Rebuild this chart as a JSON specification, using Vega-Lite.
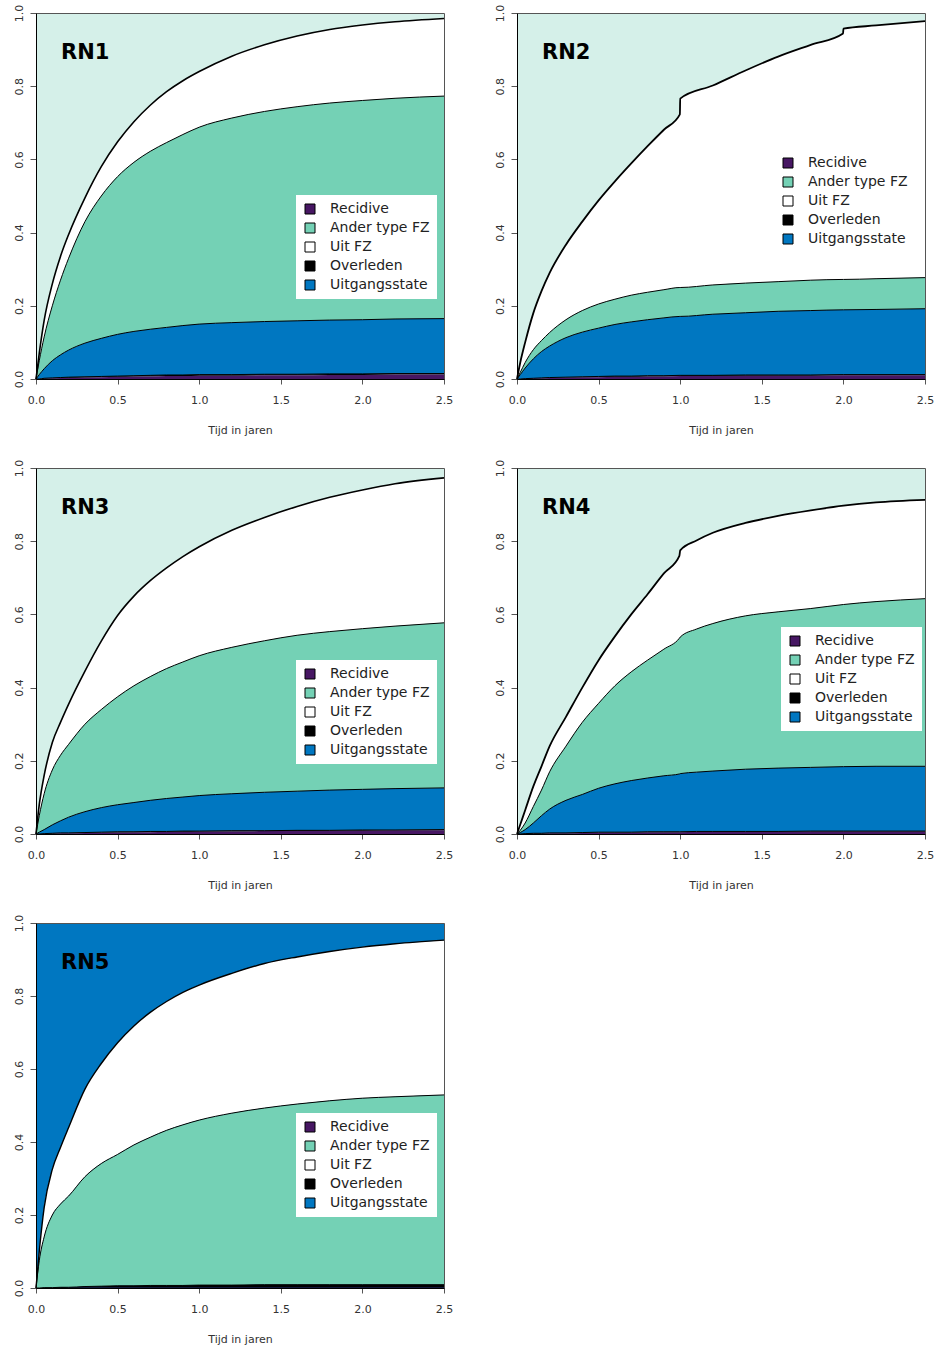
{
  "$schema": "https://vega.github.io/schema/vega-lite/v6.json",
  "padding": {"left": 12, "top": 3, "right": 5, "bottom": 5},
  "background": "white",
  "datasets": {
    "rn1": [
      {"t": 0, "rec": 0, "ovl": 0, "uit": 0, "and": 0, "fz": 0},
      {"t": 0.02, "rec": 0, "ovl": 0, "uit": 0.012, "and": 0.05, "fz": 0.07},
      {"t": 0.05, "rec": 0.001, "ovl": 0.002, "uit": 0.028, "and": 0.115, "fz": 0.16},
      {"t": 0.1, "rec": 0.002, "ovl": 0.003, "uit": 0.05, "and": 0.2, "fz": 0.26},
      {"t": 0.15, "rec": 0.003, "ovl": 0.004, "uit": 0.066, "and": 0.27, "fz": 0.335},
      {"t": 0.2, "rec": 0.003, "ovl": 0.005, "uit": 0.079, "and": 0.33, "fz": 0.395},
      {"t": 0.3, "rec": 0.004, "ovl": 0.006, "uit": 0.098, "and": 0.43, "fz": 0.495},
      {"t": 0.4, "rec": 0.005, "ovl": 0.007, "uit": 0.111, "and": 0.5, "fz": 0.58},
      {"t": 0.5, "rec": 0.006, "ovl": 0.008, "uit": 0.122, "and": 0.553, "fz": 0.648},
      {"t": 0.6, "rec": 0.007, "ovl": 0.009, "uit": 0.13, "and": 0.592, "fz": 0.703},
      {"t": 0.7, "rec": 0.007, "ovl": 0.01, "uit": 0.136, "and": 0.622, "fz": 0.748},
      {"t": 0.8, "rec": 0.008, "ovl": 0.011, "uit": 0.141, "and": 0.646, "fz": 0.785},
      {"t": 0.9, "rec": 0.008, "ovl": 0.011, "uit": 0.146, "and": 0.668, "fz": 0.815},
      {"t": 1.0, "rec": 0.009, "ovl": 0.012, "uit": 0.15, "and": 0.688, "fz": 0.84},
      {"t": 1.2, "rec": 0.009, "ovl": 0.012, "uit": 0.154, "and": 0.713, "fz": 0.882},
      {"t": 1.4, "rec": 0.01, "ovl": 0.013, "uit": 0.157, "and": 0.731, "fz": 0.913},
      {"t": 1.6, "rec": 0.01, "ovl": 0.013, "uit": 0.159, "and": 0.744, "fz": 0.937},
      {"t": 1.8, "rec": 0.011, "ovl": 0.014, "uit": 0.161, "and": 0.754, "fz": 0.955},
      {"t": 2.0, "rec": 0.011, "ovl": 0.014, "uit": 0.162, "and": 0.761, "fz": 0.967},
      {"t": 2.2, "rec": 0.012, "ovl": 0.015, "uit": 0.164, "and": 0.767, "fz": 0.976},
      {"t": 2.5, "rec": 0.012, "ovl": 0.015, "uit": 0.165, "and": 0.773, "fz": 0.985}
    ],
    "rn2": [
      {"t": 0, "rec": 0, "ovl": 0, "uit": 0, "and": 0, "fz": 0},
      {"t": 0.02, "rec": 0, "ovl": 0, "uit": 0.012, "and": 0.018, "fz": 0.045},
      {"t": 0.05, "rec": 0.001, "ovl": 0.001, "uit": 0.03, "and": 0.045, "fz": 0.1},
      {"t": 0.1, "rec": 0.002, "ovl": 0.002, "uit": 0.055, "and": 0.08, "fz": 0.18},
      {"t": 0.15, "rec": 0.002, "ovl": 0.003, "uit": 0.075, "and": 0.105, "fz": 0.24},
      {"t": 0.2, "rec": 0.003, "ovl": 0.004, "uit": 0.09, "and": 0.127, "fz": 0.29},
      {"t": 0.3, "rec": 0.004, "ovl": 0.005, "uit": 0.113, "and": 0.162, "fz": 0.367},
      {"t": 0.4, "rec": 0.005, "ovl": 0.006, "uit": 0.128, "and": 0.187, "fz": 0.43},
      {"t": 0.5, "rec": 0.005, "ovl": 0.007, "uit": 0.139, "and": 0.205, "fz": 0.488},
      {"t": 0.6, "rec": 0.006, "ovl": 0.008, "uit": 0.149, "and": 0.218, "fz": 0.54},
      {"t": 0.7, "rec": 0.006, "ovl": 0.008, "uit": 0.156, "and": 0.229, "fz": 0.589},
      {"t": 0.8, "rec": 0.007, "ovl": 0.009, "uit": 0.162, "and": 0.237, "fz": 0.636},
      {"t": 0.9, "rec": 0.007, "ovl": 0.009, "uit": 0.167, "and": 0.244, "fz": 0.681},
      {"t": 0.998, "rec": 0.008, "ovl": 0.01, "uit": 0.171, "and": 0.25, "fz": 0.723},
      {"t": 1.0, "rec": 0.008, "ovl": 0.01, "uit": 0.171, "and": 0.25, "fz": 0.766},
      {"t": 1.2, "rec": 0.008, "ovl": 0.01, "uit": 0.177, "and": 0.257, "fz": 0.802},
      {"t": 1.4, "rec": 0.009, "ovl": 0.011, "uit": 0.181, "and": 0.262, "fz": 0.843},
      {"t": 1.6, "rec": 0.009, "ovl": 0.011, "uit": 0.185, "and": 0.266, "fz": 0.881},
      {"t": 1.8, "rec": 0.009, "ovl": 0.011, "uit": 0.187, "and": 0.27, "fz": 0.913},
      {"t": 1.998, "rec": 0.01, "ovl": 0.012, "uit": 0.189, "and": 0.272, "fz": 0.944},
      {"t": 2.0, "rec": 0.01, "ovl": 0.012, "uit": 0.189, "and": 0.272, "fz": 0.957},
      {"t": 2.2, "rec": 0.01, "ovl": 0.012, "uit": 0.19, "and": 0.274, "fz": 0.966},
      {"t": 2.5, "rec": 0.01, "ovl": 0.012, "uit": 0.192, "and": 0.277, "fz": 0.978}
    ],
    "rn3": [
      {"t": 0, "rec": 0, "ovl": 0, "uit": 0, "and": 0, "fz": 0},
      {"t": 0.02, "rec": 0, "ovl": 0, "uit": 0.005, "and": 0.05, "fz": 0.08},
      {"t": 0.05, "rec": 0.001, "ovl": 0.001, "uit": 0.012, "and": 0.11, "fz": 0.16},
      {"t": 0.1, "rec": 0.001, "ovl": 0.002, "uit": 0.025, "and": 0.175, "fz": 0.25},
      {"t": 0.15, "rec": 0.002, "ovl": 0.003, "uit": 0.036, "and": 0.215, "fz": 0.305},
      {"t": 0.2, "rec": 0.002, "ovl": 0.003, "uit": 0.046, "and": 0.245, "fz": 0.355},
      {"t": 0.3, "rec": 0.003, "ovl": 0.004, "uit": 0.061, "and": 0.3, "fz": 0.445},
      {"t": 0.4, "rec": 0.004, "ovl": 0.005, "uit": 0.072, "and": 0.34, "fz": 0.527},
      {"t": 0.5, "rec": 0.004, "ovl": 0.006, "uit": 0.08, "and": 0.375, "fz": 0.597},
      {"t": 0.6, "rec": 0.005, "ovl": 0.006, "uit": 0.086, "and": 0.405, "fz": 0.65},
      {"t": 0.7, "rec": 0.005, "ovl": 0.007, "uit": 0.092, "and": 0.43, "fz": 0.692},
      {"t": 0.8, "rec": 0.006, "ovl": 0.007, "uit": 0.097, "and": 0.452, "fz": 0.727},
      {"t": 0.9, "rec": 0.006, "ovl": 0.008, "uit": 0.101, "and": 0.47, "fz": 0.758},
      {"t": 1.0, "rec": 0.007, "ovl": 0.008, "uit": 0.105, "and": 0.487, "fz": 0.785},
      {"t": 1.2, "rec": 0.007, "ovl": 0.009, "uit": 0.11, "and": 0.51, "fz": 0.83},
      {"t": 1.4, "rec": 0.008, "ovl": 0.009, "uit": 0.114, "and": 0.528, "fz": 0.865},
      {"t": 1.6, "rec": 0.008, "ovl": 0.01, "uit": 0.117, "and": 0.543, "fz": 0.895},
      {"t": 1.8, "rec": 0.009, "ovl": 0.01, "uit": 0.12, "and": 0.553, "fz": 0.92},
      {"t": 2.0, "rec": 0.009, "ovl": 0.011, "uit": 0.122, "and": 0.561, "fz": 0.94},
      {"t": 2.2, "rec": 0.01, "ovl": 0.011, "uit": 0.124, "and": 0.568, "fz": 0.957},
      {"t": 2.5, "rec": 0.01, "ovl": 0.012, "uit": 0.126, "and": 0.577, "fz": 0.973}
    ],
    "rn4": [
      {"t": 0, "rec": 0, "ovl": 0, "uit": 0, "and": 0, "fz": 0},
      {"t": 0.02, "rec": 0, "ovl": 0, "uit": 0.004, "and": 0.01, "fz": 0.026},
      {"t": 0.05, "rec": 0, "ovl": 0.001, "uit": 0.012, "and": 0.03, "fz": 0.065},
      {"t": 0.1, "rec": 0.001, "ovl": 0.002, "uit": 0.03, "and": 0.075, "fz": 0.13},
      {"t": 0.15, "rec": 0.001, "ovl": 0.002, "uit": 0.05, "and": 0.12, "fz": 0.185},
      {"t": 0.2, "rec": 0.002, "ovl": 0.003, "uit": 0.068, "and": 0.17, "fz": 0.24},
      {"t": 0.3, "rec": 0.002, "ovl": 0.003, "uit": 0.092, "and": 0.24, "fz": 0.32},
      {"t": 0.4, "rec": 0.003, "ovl": 0.004, "uit": 0.108, "and": 0.305, "fz": 0.4},
      {"t": 0.5, "rec": 0.004, "ovl": 0.005, "uit": 0.125, "and": 0.357, "fz": 0.475},
      {"t": 0.6, "rec": 0.004, "ovl": 0.005, "uit": 0.137, "and": 0.405, "fz": 0.54},
      {"t": 0.7, "rec": 0.004, "ovl": 0.005, "uit": 0.146, "and": 0.443, "fz": 0.6},
      {"t": 0.8, "rec": 0.005, "ovl": 0.006, "uit": 0.153, "and": 0.475, "fz": 0.655},
      {"t": 0.9, "rec": 0.005, "ovl": 0.006, "uit": 0.159, "and": 0.505, "fz": 0.712},
      {"t": 0.995, "rec": 0.005, "ovl": 0.006, "uit": 0.164, "and": 0.535, "fz": 0.76},
      {"t": 1.0, "rec": 0.005, "ovl": 0.006, "uit": 0.165, "and": 0.538, "fz": 0.775},
      {"t": 1.1, "rec": 0.006, "ovl": 0.007, "uit": 0.169, "and": 0.56, "fz": 0.802},
      {"t": 1.2, "rec": 0.006, "ovl": 0.007, "uit": 0.172, "and": 0.575, "fz": 0.823},
      {"t": 1.4, "rec": 0.006, "ovl": 0.007, "uit": 0.177, "and": 0.596, "fz": 0.85},
      {"t": 1.6, "rec": 0.006, "ovl": 0.007, "uit": 0.18, "and": 0.607, "fz": 0.869},
      {"t": 1.8, "rec": 0.007, "ovl": 0.008, "uit": 0.182, "and": 0.616, "fz": 0.884},
      {"t": 2.0, "rec": 0.007, "ovl": 0.008, "uit": 0.184, "and": 0.627, "fz": 0.897},
      {"t": 2.2, "rec": 0.007, "ovl": 0.008, "uit": 0.185, "and": 0.635, "fz": 0.906},
      {"t": 2.5, "rec": 0.007, "ovl": 0.008, "uit": 0.185, "and": 0.643, "fz": 0.913}
    ],
    "rn5": [
      {"t": 0, "rec": 0, "ovl": 0, "uit": 0, "and": 0, "fz": 0},
      {"t": 0.02, "rec": 0, "ovl": 0, "uit": 0, "and": 0.075, "fz": 0.1},
      {"t": 0.05, "rec": 0, "ovl": 0.001, "uit": 0.001, "and": 0.14, "fz": 0.22},
      {"t": 0.1, "rec": 0, "ovl": 0.001, "uit": 0.001, "and": 0.2, "fz": 0.325},
      {"t": 0.15, "rec": 0, "ovl": 0.002, "uit": 0.002, "and": 0.23, "fz": 0.385},
      {"t": 0.2, "rec": 0.001, "ovl": 0.002, "uit": 0.002, "and": 0.252, "fz": 0.44},
      {"t": 0.3, "rec": 0.001, "ovl": 0.004, "uit": 0.004, "and": 0.305, "fz": 0.545},
      {"t": 0.4, "rec": 0.001, "ovl": 0.005, "uit": 0.005, "and": 0.341, "fz": 0.615},
      {"t": 0.5, "rec": 0.001, "ovl": 0.006, "uit": 0.006, "and": 0.366, "fz": 0.672},
      {"t": 0.6, "rec": 0.001, "ovl": 0.006, "uit": 0.006, "and": 0.392, "fz": 0.718},
      {"t": 0.7, "rec": 0.001, "ovl": 0.007, "uit": 0.007, "and": 0.413, "fz": 0.755},
      {"t": 0.8, "rec": 0.001, "ovl": 0.007, "uit": 0.007, "and": 0.432, "fz": 0.785},
      {"t": 0.9, "rec": 0.001, "ovl": 0.007, "uit": 0.007, "and": 0.447, "fz": 0.81},
      {"t": 1.0, "rec": 0.001, "ovl": 0.008, "uit": 0.008, "and": 0.46, "fz": 0.83},
      {"t": 1.2, "rec": 0.001, "ovl": 0.008, "uit": 0.008, "and": 0.479, "fz": 0.862},
      {"t": 1.4, "rec": 0.001, "ovl": 0.009, "uit": 0.009, "and": 0.493, "fz": 0.889},
      {"t": 1.6, "rec": 0.001, "ovl": 0.009, "uit": 0.009, "and": 0.504, "fz": 0.907},
      {"t": 1.8, "rec": 0.001, "ovl": 0.009, "uit": 0.009, "and": 0.513, "fz": 0.922},
      {"t": 2.0, "rec": 0.001, "ovl": 0.009, "uit": 0.009, "and": 0.52, "fz": 0.934},
      {"t": 2.2, "rec": 0.001, "ovl": 0.009, "uit": 0.009, "and": 0.524, "fz": 0.943},
      {"t": 2.5, "rec": 0.001, "ovl": 0.009, "uit": 0.009, "and": 0.529, "fz": 0.953}
    ]
  },
  "vconcat": [
    {
      "hconcat": [
        {
          "width": 408, "height": 366,
          "view": {"fill": "#d5f0e9", "stroke": "#555"},
          "data": {"name": "rn1"},
          "encoding": {"x": {"field": "t", "type": "quantitative", "scale": {"domain": [0, 2.5], "nice": false}, "axis": {"values": [0, 0.5, 1, 1.5, 2, 2.5], "format": ".1f"}, "title": "Tijd in jaren"}},
          "layer": [
            {"mark": {"type": "area", "interpolate": "monotone", "opacity": 1}, "encoding": {"y": {"field": "fz", "type": "quantitative", "scale": {"domain": [0, 1], "nice": false}, "axis": {"values": [0, 0.2, 0.4, 0.6, 0.8, 1], "format": ".1f"}, "title": null}, "y2": {"field": "and"}, "color": {"datum": "Uit FZ", "type": "nominal", "scale": {"domain": ["Recidive", "Ander type FZ", "Uit FZ", "Overleden", "Uitgangsstate"], "range": ["#471763", "#74d1b5", "#ffffff", "#000000", "#0077c1"]}, "legend": {"title": null, "orient": "none", "legendX": 260, "legendY": 182}}}},
            {"mark": {"type": "area", "interpolate": "monotone", "opacity": 1}, "encoding": {"y": {"field": "and", "type": "quantitative", "scale": {"domain": [0, 1], "nice": false}, "title": null}, "y2": {"field": "uit"}, "color": {"datum": "Ander type FZ", "type": "nominal"}}},
            {"mark": {"type": "area", "interpolate": "monotone", "opacity": 1}, "encoding": {"y": {"field": "uit", "type": "quantitative", "scale": {"domain": [0, 1], "nice": false}, "title": null}, "y2": {"field": "ovl"}, "color": {"datum": "Uitgangsstate", "type": "nominal"}}},
            {"mark": {"type": "area", "interpolate": "monotone", "opacity": 1}, "encoding": {"y": {"field": "ovl", "type": "quantitative", "scale": {"domain": [0, 1], "nice": false}, "title": null}, "y2": {"field": "rec"}, "color": {"datum": "Overleden", "type": "nominal"}}},
            {"mark": {"type": "area", "interpolate": "monotone", "opacity": 1}, "encoding": {"y": {"field": "rec", "type": "quantitative", "scale": {"domain": [0, 1], "nice": false}, "title": null}, "color": {"datum": "Recidive", "type": "nominal"}}},
            {"mark": {"type": "line", "interpolate": "monotone", "color": "black", "strokeWidth": 1}, "encoding": {"y": {"field": "ovl", "type": "quantitative", "title": null}}},
            {"mark": {"type": "line", "interpolate": "monotone", "color": "black", "strokeWidth": 1}, "encoding": {"y": {"field": "uit", "type": "quantitative", "title": null}}},
            {"mark": {"type": "line", "interpolate": "monotone", "color": "black", "strokeWidth": 1}, "encoding": {"y": {"field": "and", "type": "quantitative", "title": null}}},
            {"mark": {"type": "line", "interpolate": "monotone", "color": "black", "strokeWidth": 1.6}, "encoding": {"y": {"field": "fz", "type": "quantitative", "title": null}}},
            {"transform": [{"filter": {"field": "t", "equal": 0}}], "mark": {"type": "text", "text": "RN1", "font": "DejaVu Sans", "fontSize": 21, "fontWeight": "bold", "align": "left", "baseline": "alphabetic", "fill": "black", "opacity": 1}, "encoding": {"x": {"datum": 0.153, "type": "quantitative"}, "y": {"datum": 0.875, "type": "quantitative"}}}
          ]
        },
        {
          "width": 408, "height": 366,
          "view": {"fill": "#d5f0e9", "stroke": "#555"},
          "data": {"name": "rn2"},
          "encoding": {"x": {"field": "t", "type": "quantitative", "scale": {"domain": [0, 2.5], "nice": false}, "axis": {"values": [0, 0.5, 1, 1.5, 2, 2.5], "format": ".1f"}, "title": "Tijd in jaren"}},
          "layer": [
            {"mark": {"type": "area", "interpolate": "monotone", "opacity": 1}, "encoding": {"y": {"field": "fz", "type": "quantitative", "scale": {"domain": [0, 1], "nice": false}, "axis": {"values": [0, 0.2, 0.4, 0.6, 0.8, 1], "format": ".1f"}, "title": null}, "y2": {"field": "and"}, "color": {"datum": "Uit FZ", "type": "nominal", "scale": {"domain": ["Recidive", "Ander type FZ", "Uit FZ", "Overleden", "Uitgangsstate"], "range": ["#471763", "#74d1b5", "#ffffff", "#000000", "#0077c1"]}, "legend": {"title": null, "orient": "none", "legendX": 257, "legendY": 136}}}},
            {"mark": {"type": "area", "interpolate": "monotone", "opacity": 1}, "encoding": {"y": {"field": "and", "type": "quantitative", "scale": {"domain": [0, 1], "nice": false}, "title": null}, "y2": {"field": "uit"}, "color": {"datum": "Ander type FZ", "type": "nominal"}}},
            {"mark": {"type": "area", "interpolate": "monotone", "opacity": 1}, "encoding": {"y": {"field": "uit", "type": "quantitative", "scale": {"domain": [0, 1], "nice": false}, "title": null}, "y2": {"field": "ovl"}, "color": {"datum": "Uitgangsstate", "type": "nominal"}}},
            {"mark": {"type": "area", "interpolate": "monotone", "opacity": 1}, "encoding": {"y": {"field": "ovl", "type": "quantitative", "scale": {"domain": [0, 1], "nice": false}, "title": null}, "y2": {"field": "rec"}, "color": {"datum": "Overleden", "type": "nominal"}}},
            {"mark": {"type": "area", "interpolate": "monotone", "opacity": 1}, "encoding": {"y": {"field": "rec", "type": "quantitative", "scale": {"domain": [0, 1], "nice": false}, "title": null}, "color": {"datum": "Recidive", "type": "nominal"}}},
            {"mark": {"type": "line", "interpolate": "monotone", "color": "black", "strokeWidth": 1}, "encoding": {"y": {"field": "ovl", "type": "quantitative", "title": null}}},
            {"mark": {"type": "line", "interpolate": "monotone", "color": "black", "strokeWidth": 1}, "encoding": {"y": {"field": "uit", "type": "quantitative", "title": null}}},
            {"mark": {"type": "line", "interpolate": "monotone", "color": "black", "strokeWidth": 1}, "encoding": {"y": {"field": "and", "type": "quantitative", "title": null}}},
            {"mark": {"type": "line", "interpolate": "monotone", "color": "black", "strokeWidth": 1.8}, "encoding": {"y": {"field": "fz", "type": "quantitative", "title": null}}},
            {"transform": [{"filter": {"field": "t", "equal": 0}}], "mark": {"type": "text", "text": "RN2", "font": "DejaVu Sans", "fontSize": 21, "fontWeight": "bold", "align": "left", "baseline": "alphabetic", "fill": "black", "opacity": 1}, "encoding": {"x": {"datum": 0.153, "type": "quantitative"}, "y": {"datum": 0.875, "type": "quantitative"}}}
          ]
        }
      ],
      "spacing": 39,
      "resolve": {"scale": {"color": "independent"}, "legend": {"color": "independent"}}
    },
    {
      "hconcat": [
        {
          "width": 408, "height": 366,
          "view": {"fill": "#d5f0e9", "stroke": "#555"},
          "data": {"name": "rn3"},
          "encoding": {"x": {"field": "t", "type": "quantitative", "scale": {"domain": [0, 2.5], "nice": false}, "axis": {"values": [0, 0.5, 1, 1.5, 2, 2.5], "format": ".1f"}, "title": "Tijd in jaren"}},
          "layer": [
            {"mark": {"type": "area", "interpolate": "monotone", "opacity": 1}, "encoding": {"y": {"field": "fz", "type": "quantitative", "scale": {"domain": [0, 1], "nice": false}, "axis": {"values": [0, 0.2, 0.4, 0.6, 0.8, 1], "format": ".1f"}, "title": null}, "y2": {"field": "and"}, "color": {"datum": "Uit FZ", "type": "nominal", "scale": {"domain": ["Recidive", "Ander type FZ", "Uit FZ", "Overleden", "Uitgangsstate"], "range": ["#471763", "#74d1b5", "#ffffff", "#000000", "#0077c1"]}, "legend": {"title": null, "orient": "none", "legendX": 260, "legendY": 192}}}},
            {"mark": {"type": "area", "interpolate": "monotone", "opacity": 1}, "encoding": {"y": {"field": "and", "type": "quantitative", "scale": {"domain": [0, 1], "nice": false}, "title": null}, "y2": {"field": "uit"}, "color": {"datum": "Ander type FZ", "type": "nominal"}}},
            {"mark": {"type": "area", "interpolate": "monotone", "opacity": 1}, "encoding": {"y": {"field": "uit", "type": "quantitative", "scale": {"domain": [0, 1], "nice": false}, "title": null}, "y2": {"field": "ovl"}, "color": {"datum": "Uitgangsstate", "type": "nominal"}}},
            {"mark": {"type": "area", "interpolate": "monotone", "opacity": 1}, "encoding": {"y": {"field": "ovl", "type": "quantitative", "scale": {"domain": [0, 1], "nice": false}, "title": null}, "y2": {"field": "rec"}, "color": {"datum": "Overleden", "type": "nominal"}}},
            {"mark": {"type": "area", "interpolate": "monotone", "opacity": 1}, "encoding": {"y": {"field": "rec", "type": "quantitative", "scale": {"domain": [0, 1], "nice": false}, "title": null}, "color": {"datum": "Recidive", "type": "nominal"}}},
            {"mark": {"type": "line", "interpolate": "monotone", "color": "black", "strokeWidth": 1}, "encoding": {"y": {"field": "ovl", "type": "quantitative", "title": null}}},
            {"mark": {"type": "line", "interpolate": "monotone", "color": "black", "strokeWidth": 1}, "encoding": {"y": {"field": "uit", "type": "quantitative", "title": null}}},
            {"mark": {"type": "line", "interpolate": "monotone", "color": "black", "strokeWidth": 1}, "encoding": {"y": {"field": "and", "type": "quantitative", "title": null}}},
            {"mark": {"type": "line", "interpolate": "monotone", "color": "black", "strokeWidth": 1.6}, "encoding": {"y": {"field": "fz", "type": "quantitative", "title": null}}},
            {"transform": [{"filter": {"field": "t", "equal": 0}}], "mark": {"type": "text", "text": "RN3", "font": "DejaVu Sans", "fontSize": 21, "fontWeight": "bold", "align": "left", "baseline": "alphabetic", "fill": "black", "opacity": 1}, "encoding": {"x": {"datum": 0.153, "type": "quantitative"}, "y": {"datum": 0.875, "type": "quantitative"}}}
          ]
        },
        {
          "width": 408, "height": 366,
          "view": {"fill": "#d5f0e9", "stroke": "#555"},
          "data": {"name": "rn4"},
          "encoding": {"x": {"field": "t", "type": "quantitative", "scale": {"domain": [0, 2.5], "nice": false}, "axis": {"values": [0, 0.5, 1, 1.5, 2, 2.5], "format": ".1f"}, "title": "Tijd in jaren"}},
          "layer": [
            {"mark": {"type": "area", "interpolate": "monotone", "opacity": 1}, "encoding": {"y": {"field": "fz", "type": "quantitative", "scale": {"domain": [0, 1], "nice": false}, "axis": {"values": [0, 0.2, 0.4, 0.6, 0.8, 1], "format": ".1f"}, "title": null}, "y2": {"field": "and"}, "color": {"datum": "Uit FZ", "type": "nominal", "scale": {"domain": ["Recidive", "Ander type FZ", "Uit FZ", "Overleden", "Uitgangsstate"], "range": ["#471763", "#74d1b5", "#ffffff", "#000000", "#0077c1"]}, "legend": {"title": null, "orient": "none", "legendX": 264, "legendY": 159}}}},
            {"mark": {"type": "area", "interpolate": "monotone", "opacity": 1}, "encoding": {"y": {"field": "and", "type": "quantitative", "scale": {"domain": [0, 1], "nice": false}, "title": null}, "y2": {"field": "uit"}, "color": {"datum": "Ander type FZ", "type": "nominal"}}},
            {"mark": {"type": "area", "interpolate": "monotone", "opacity": 1}, "encoding": {"y": {"field": "uit", "type": "quantitative", "scale": {"domain": [0, 1], "nice": false}, "title": null}, "y2": {"field": "ovl"}, "color": {"datum": "Uitgangsstate", "type": "nominal"}}},
            {"mark": {"type": "area", "interpolate": "monotone", "opacity": 1}, "encoding": {"y": {"field": "ovl", "type": "quantitative", "scale": {"domain": [0, 1], "nice": false}, "title": null}, "y2": {"field": "rec"}, "color": {"datum": "Overleden", "type": "nominal"}}},
            {"mark": {"type": "area", "interpolate": "monotone", "opacity": 1}, "encoding": {"y": {"field": "rec", "type": "quantitative", "scale": {"domain": [0, 1], "nice": false}, "title": null}, "color": {"datum": "Recidive", "type": "nominal"}}},
            {"mark": {"type": "line", "interpolate": "monotone", "color": "black", "strokeWidth": 1}, "encoding": {"y": {"field": "ovl", "type": "quantitative", "title": null}}},
            {"mark": {"type": "line", "interpolate": "monotone", "color": "black", "strokeWidth": 1}, "encoding": {"y": {"field": "uit", "type": "quantitative", "title": null}}},
            {"mark": {"type": "line", "interpolate": "monotone", "color": "black", "strokeWidth": 1}, "encoding": {"y": {"field": "and", "type": "quantitative", "title": null}}},
            {"mark": {"type": "line", "interpolate": "monotone", "color": "black", "strokeWidth": 1.8}, "encoding": {"y": {"field": "fz", "type": "quantitative", "title": null}}},
            {"transform": [{"filter": {"field": "t", "equal": 0}}], "mark": {"type": "text", "text": "RN4", "font": "DejaVu Sans", "fontSize": 21, "fontWeight": "bold", "align": "left", "baseline": "alphabetic", "fill": "black", "opacity": 1}, "encoding": {"x": {"datum": 0.153, "type": "quantitative"}, "y": {"datum": 0.875, "type": "quantitative"}}}
          ]
        }
      ],
      "spacing": 39,
      "resolve": {"scale": {"color": "independent"}, "legend": {"color": "independent"}}
    },
    {
      "width": 408, "height": 365,
      "view": {"fill": "#0077c1", "stroke": "#555"},
      "data": {"name": "rn5"},
      "encoding": {"x": {"field": "t", "type": "quantitative", "scale": {"domain": [0, 2.5], "nice": false}, "axis": {"values": [0, 0.5, 1, 1.5, 2, 2.5], "format": ".1f"}, "title": "Tijd in jaren"}},
      "layer": [
        {"mark": {"type": "area", "interpolate": "monotone", "opacity": 1}, "encoding": {"y": {"field": "fz", "type": "quantitative", "scale": {"domain": [0, 1], "nice": false}, "axis": {"values": [0, 0.2, 0.4, 0.6, 0.8, 1], "format": ".1f"}, "title": null}, "y2": {"field": "and"}, "color": {"datum": "Uit FZ", "type": "nominal", "scale": {"domain": ["Recidive", "Ander type FZ", "Uit FZ", "Overleden", "Uitgangsstate"], "range": ["#471763", "#74d1b5", "#ffffff", "#000000", "#0077c1"]}, "legend": {"title": null, "orient": "none", "legendX": 260, "legendY": 190}}}},
        {"mark": {"type": "area", "interpolate": "monotone", "opacity": 1}, "encoding": {"y": {"field": "and", "type": "quantitative", "scale": {"domain": [0, 1], "nice": false}, "title": null}, "y2": {"field": "uit"}, "color": {"datum": "Ander type FZ", "type": "nominal"}}},
        {"mark": {"type": "area", "interpolate": "monotone", "opacity": 1}, "encoding": {"y": {"field": "uit", "type": "quantitative", "scale": {"domain": [0, 1], "nice": false}, "title": null}, "y2": {"field": "ovl"}, "color": {"datum": "Uitgangsstate", "type": "nominal"}}},
        {"mark": {"type": "area", "interpolate": "monotone", "opacity": 1}, "encoding": {"y": {"field": "ovl", "type": "quantitative", "scale": {"domain": [0, 1], "nice": false}, "title": null}, "y2": {"field": "rec"}, "color": {"datum": "Overleden", "type": "nominal"}}},
        {"mark": {"type": "area", "interpolate": "monotone", "opacity": 1}, "encoding": {"y": {"field": "rec", "type": "quantitative", "scale": {"domain": [0, 1], "nice": false}, "title": null}, "color": {"datum": "Recidive", "type": "nominal"}}},
        {"mark": {"type": "line", "interpolate": "monotone", "color": "black", "strokeWidth": 1}, "encoding": {"y": {"field": "ovl", "type": "quantitative", "title": null}}},
        {"mark": {"type": "line", "interpolate": "monotone", "color": "black", "strokeWidth": 1}, "encoding": {"y": {"field": "and", "type": "quantitative", "title": null}}},
        {"mark": {"type": "line", "interpolate": "monotone", "color": "black", "strokeWidth": 1.4}, "encoding": {"y": {"field": "fz", "type": "quantitative", "title": null}}},
        {"transform": [{"filter": {"field": "t", "equal": 0}}], "mark": {"type": "text", "text": "RN5", "font": "DejaVu Sans", "fontSize": 21, "fontWeight": "bold", "align": "left", "baseline": "alphabetic", "fill": "black", "opacity": 1}, "encoding": {"x": {"datum": 0.153, "type": "quantitative"}, "y": {"datum": 0.875, "type": "quantitative"}}}
      ]
    }
  ],
  "spacing": 22,
  "resolve": {"scale": {"color": "independent"}, "legend": {"color": "independent"}},
  "config": {
    "font": "DejaVu Sans",
    "axis": {"grid": false, "labelFont": "DejaVu Sans", "labelFontSize": 11, "labelColor": "#333", "tickColor": "#555", "domainColor": "#000", "titleFont": "DejaVu Sans", "titleFontSize": 11, "titleFontWeight": "normal", "titleColor": "#333"},
    "axisX": {"tickSize": 5, "labelPadding": 10, "titlePadding": 19, "labelFlush": false},
    "axisY": {"tickSize": 6, "labelAngle": -90, "labelAlign": "center", "labelBaseline": "bottom", "labelPadding": 6},
    "legend": {"fillColor": "white", "padding": 7, "symbolType": "square", "symbolSize": 100, "symbolStrokeColor": "black", "symbolStrokeWidth": 1, "symbolOpacity": 1, "labelFont": "DejaVu Sans", "labelFontSize": 14, "labelColor": "#222", "labelOffset": 13, "rowPadding": 5, "labelLimit": 300}
  }
}
